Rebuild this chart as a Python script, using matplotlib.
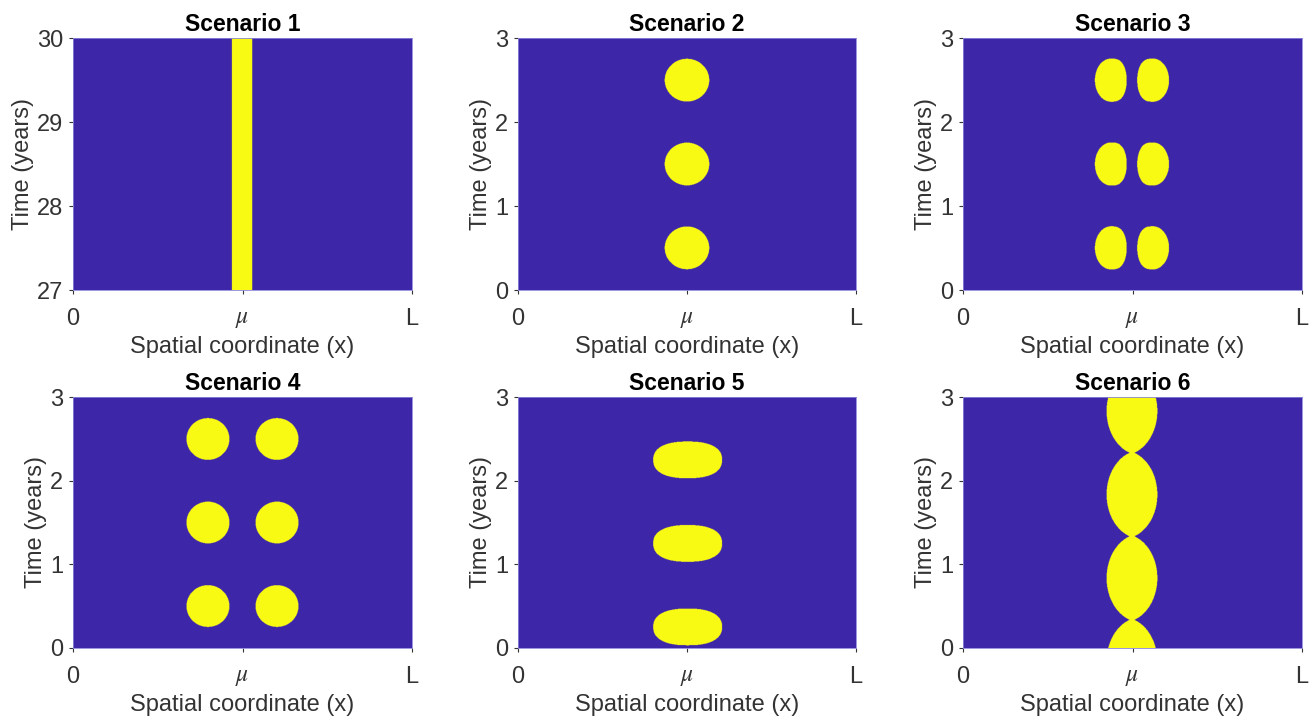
import numpy as np
import matplotlib
matplotlib.use("Agg")
import matplotlib.pyplot as plt
from matplotlib.colors import LinearSegmentedColormap

plt.rcParams["font.family"] = ["Liberation Sans", "DejaVu Sans"]
plt.rcParams["mathtext.fontset"] = "stix"

# ---------------- data ----------------
titles = ["Scenario 1", "Scenario 2", "Scenario 3",
          "Scenario 4", "Scenario 5", "Scenario 6"]
t_ranges = [(27, 30), (0, 3), (0, 3), (0, 3), (0, 3), (0, 3)]
y_ticks = [[27, 28, 29, 30], [0, 1, 2, 3], [0, 1, 2, 3],
           [0, 1, 2, 3], [0, 1, 2, 3], [0, 1, 2, 3]]
x_tick_pos = [0.0, 0.5, 1.0]          # 0, mu, L  (x normalised by L)
x_tick_labels = ["0", r"$\mu$", "L"]
x_label = "Spatial coordinate (x)"
y_label = "Time (years)"

mu = 0.4985

# Scenario 1: constant band around mu
s1_half_width = 0.030

# Scenario 2: single column of round patches
s2_x = [0.500]
s2_t = [0.5, 1.5, 2.5]
s2_half_x = 0.066
s2_half_t = 0.255

# Scenario 3: paired patches, flatter on the inner side
s3_x = [0.436, 0.561]
s3_t = [0.5, 1.5, 2.5]
s3_half_x = 0.047
s3_half_t = 0.257
s3_inner_power = 3.0

# Scenario 4: paired round patches
s4_x = [0.398, 0.602]
s4_t = [0.5, 1.5, 2.5]
s4_half_x = 0.0634
s4_half_t = 0.25

# Scenario 5: elongated (rounded-rectangle) patches
s5_x = [0.502]
s5_t = [0.25, 1.25, 2.25]
s5_half_x = 0.102
s5_half_t = 0.22
s5_power = 2.4

# Scenario 6: chain of bulges joined by narrow necks
s6_bulge_t = [-0.165, 0.835, 1.835, 2.835]
s6_max_half_width = 0.075
s6_min_half_width = 0.007
s6_bulge_half_len = 0.5
s6_roundness = 1.06

# ---------------- fields ----------------
NX, NT = 800, 600
x = np.linspace(0, 1, NX)


def grid(tr):
    t = np.linspace(tr[0], tr[1], NT)
    return np.meshgrid(x, t)


def field1(X, T):
    return (np.abs(X - mu) <= s1_half_width).astype(float)


def blobs(X, T, xs, ts, ax, at, p=2.0):
    F = np.zeros_like(X)
    for xc in xs:
        for tc in ts:
            F[(np.abs((X - xc) / ax) ** p + np.abs((T - tc) / at) ** p) <= 1] = 1
    return F


def field3(X, T):
    F = np.zeros_like(X)
    for xc in s3_x:
        inner = np.sign(mu - xc) * (X - xc) > 0      # side facing mu
        px = np.where(inner, s3_inner_power, 2.0)
        for tc in s3_t:
            F[(np.abs((X - xc) / s3_half_x) ** px + ((T - tc) / s3_half_t) ** 2) <= 1] = 1
    return F


def field6(X, T):
    W = np.full_like(X, s6_min_half_width)
    r = s6_roundness
    base = np.sqrt(r ** 2 - 1)
    for tc in s6_bulge_t:
        u = np.clip(np.abs(T - tc) / s6_bulge_half_len, 0, 1)
        f = (np.sqrt(r ** 2 - u ** 2) - base) / (r - base)
        W = np.maximum(W, s6_min_half_width + (s6_max_half_width - s6_min_half_width) * f)
    return (np.abs(X - mu) <= W).astype(float)


makers = [
    field1,
    lambda X, T: blobs(X, T, s2_x, s2_t, s2_half_x, s2_half_t),
    field3,
    lambda X, T: blobs(X, T, s4_x, s4_t, s4_half_x, s4_half_t),
    lambda X, T: blobs(X, T, s5_x, s5_t, s5_half_x, s5_half_t, s5_power),
    field6,
]

parula = LinearSegmentedColormap.from_list("parula_like", [
    (0.00, (0.2422, 0.1504, 0.6603)),
    (0.25, (0.1540, 0.4600, 0.9500)),
    (0.50, (0.0800, 0.7000, 0.7800)),
    (0.75, (0.6500, 0.7500, 0.2500)),
    (1.00, (0.9769, 0.9839, 0.0805)),
])

# ---------------- layout ----------------
W_PX, H_PX = 1312, 719
fig = plt.figure(figsize=(W_PX / 100, H_PX / 100), dpi=100)
cols = [(73, 412), (518, 856), (963, 1302)]
rows = [(38, 290), (397, 648)]

tick_color = "#333333"
FS = 17
for i in range(6):
    r, c = divmod(i, 3)
    (x0, x1), (y0, y1) = cols[c], rows[r]
    ax = fig.add_axes([x0 / W_PX, 1 - y1 / H_PX, (x1 - x0) / W_PX, (y1 - y0) / H_PX])
    tr = t_ranges[i]
    X, T = grid(tr)
    F = makers[i](X, T)
    ax.imshow(F, origin="lower", extent=[0, 1, tr[0], tr[1]], aspect="auto",
              cmap=parula, vmin=0, vmax=1, interpolation="antialiased")
    ax.set_xlim(0, 1)
    ax.set_ylim(*tr)
    ax.set_xticks(x_tick_pos)
    ax.set_xticklabels(x_tick_labels)
    ax.set_yticks(y_ticks[i])
    ax.tick_params(axis="both", direction="out", length=3, width=0.8,
                   colors=tick_color, labelsize=FS)
    ax.tick_params(axis="x", pad=10)
    ax.tick_params(axis="y", pad=4)
    for s in ax.spines.values():
        s.set_color("#8a86d8")
        s.set_linewidth(0.6)
    ax.set_xlabel(x_label, fontsize=FS, color=tick_color, labelpad=4)
    ax.set_ylabel(y_label, fontsize=FS, color=tick_color, labelpad=2)
    ax.set_title(titles[i], fontsize=16.5, fontweight="bold", color="black", pad=5)

fig.savefig("out.png", dpi=100)
